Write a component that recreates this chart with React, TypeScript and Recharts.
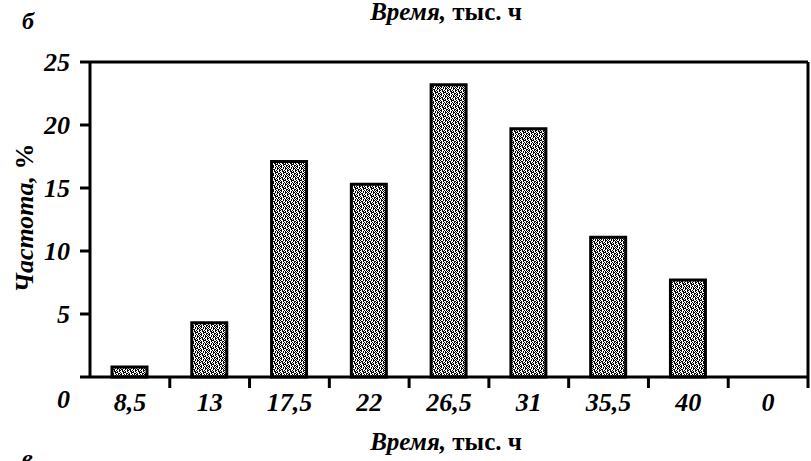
import React from 'react';
import { BarChart, Bar, XAxis, YAxis } from 'recharts';

const categories = ['8,5', '13', '17,5', '22', '26,5', '31', '35,5', '40', '0'];
const frequency = [0.8, 4.3, 17.1, 15.3, 23.2, 19.7, 11.1, 7.7, 0];
const yTicks = [0, 5, 10, 15, 20, 25];
const titleItalic = 'Время,';
const titleUpright = ' тыс. ч';
const yLabelItalic = 'Частота,';
const yLabelUpright = ' %';
const panelLetter = 'б';
const nextPanelLetter = 'в';

const data = categories.map((c, i) => ({ time: c, freq: frequency[i] }));

const W = 811;
const H = 461;
const M = { top: 61, right: 2, left: 0, bottom: 0 };
const Y_W = 90;
const X_H = 84;
const PLOT_W = W - M.left - M.right - Y_W - 1;
const BAND = PLOT_W / categories.length;
const FONT = '"Liberation Serif", "Times New Roman", serif';

const TILE = [
  '#..#.##.',
  '.##..#.#',
  '#.#.#..#',
  '..##.#.#',
  '#..###..',
  '.#.#..##',
  '##..#.#.',
  '.#.#.#.#',
];

const YTick = (props: any) => {
  const { x, y, payload } = props;
  const isZero = payload.value === 0;
  return (
    <text
      x={x}
      y={isZero ? y + 22 : y}
      dy="0.36em"
      textAnchor="end"
      fontFamily={FONT}
      fontWeight="bold"
      fontStyle="italic"
      fontSize={26}
      fill="#000"
    >
      {payload.value}
    </text>
  );
};

const XTick = (props: any) => {
  const { x, y, payload } = props;
  const lx = x + BAND / 2;
  return (
    <g>
      <line x1={lx} y1={y} x2={lx} y2={y + 11} stroke="#000" strokeWidth={3} />
      <text
        x={x}
        y={y + 25}
        dy="0.36em"
        textAnchor="middle"
        fontFamily={FONT}
        fontWeight="bold"
        fontStyle="italic"
        fontSize={26}
        fill="#000"
      >
        {payload.value}
      </text>
    </g>
  );
};

export default function App() {
  return (
    <div style={{ position: 'absolute', left: 0, top: 0, width: W, height: H, background: '#fff' }}>
      <BarChart width={W} height={H} data={data} margin={M} barCategoryGap="54%">
        <XAxis
          dataKey="time"
          height={X_H}
          tick={<XTick />}
          tickLine={false}
          tickSize={0}
          tickMargin={0}
          interval={0}
          axisLine={{ stroke: '#000', strokeWidth: 3 }}
        />
        <XAxis
          xAxisId="top"
          dataKey="time"
          orientation="top"
          height={1}
          tick={false}
          tickLine={false}
          axisLine={{ stroke: '#000', strokeWidth: 3 }}
        />
        <YAxis
          width={Y_W}
          domain={[0, 25]}
          ticks={yTicks}
          interval={0}
          tick={<YTick />}
          tickSize={10}
          tickMargin={10}
          tickLine={{ stroke: '#000', strokeWidth: 3 }}
          axisLine={{ stroke: '#000', strokeWidth: 3 }}
        />
        <YAxis
          yAxisId="right"
          orientation="right"
          width={1}
          domain={[0, 25]}
          tick={false}
          tickLine={false}
          axisLine={{ stroke: '#000', strokeWidth: 3 }}
        />
        <Bar
          dataKey="freq"
          fill="url(#stipple)"
          stroke="#000"
          strokeWidth={3}
          barSize={35}
          isAnimationActive={false}
        />
      </BarChart>
      <svg
        width={W}
        height={H}
        style={{ position: 'absolute', left: 0, top: 0, pointerEvents: 'none' }}
      >
        <defs>
          <pattern id="stipple" width={8} height={8} patternUnits="userSpaceOnUse">
            <rect x={0} y={0} width={8} height={8} fill="#fff" />
            {TILE.flatMap((row, r) =>
              row.split('').map((ch, c) =>
                ch === '#' ? <rect key={`${r}-${c}`} x={c} y={r} width={1} height={1} fill="#000" /> : null
              )
            )}
          </pattern>
        </defs>
        <text x={22} y={29} fontFamily={FONT} fontWeight="bold" fontStyle="italic" fontSize={24} fill="#000">
          {panelLetter}
        </text>
        <text x={446} y={20} textAnchor="middle" fontFamily={FONT} fontWeight="bold" fontSize={25} fill="#000">
          <tspan fontStyle="italic">{titleItalic}</tspan>
          <tspan>{titleUpright}</tspan>
        </text>
        <text x={446} y={450} textAnchor="middle" fontFamily={FONT} fontWeight="bold" fontSize={25} fill="#000">
          <tspan fontStyle="italic">{titleItalic}</tspan>
          <tspan>{titleUpright}</tspan>
        </text>
        <text
          x={33}
          y={218}
          textAnchor="middle"
          transform="rotate(-90 33 218)"
          fontFamily={FONT}
          fontWeight="bold"
          fontSize={26}
          fill="#000"
        >
          <tspan fontStyle="italic">{yLabelItalic}</tspan>
          <tspan>{yLabelUpright}</tspan>
        </text>
        <text x={22} y={466} fontFamily={FONT} fontWeight="bold" fontStyle="italic" fontSize={24} fill="#000">
          {nextPanelLetter}
        </text>
      </svg>
    </div>
  );
}
